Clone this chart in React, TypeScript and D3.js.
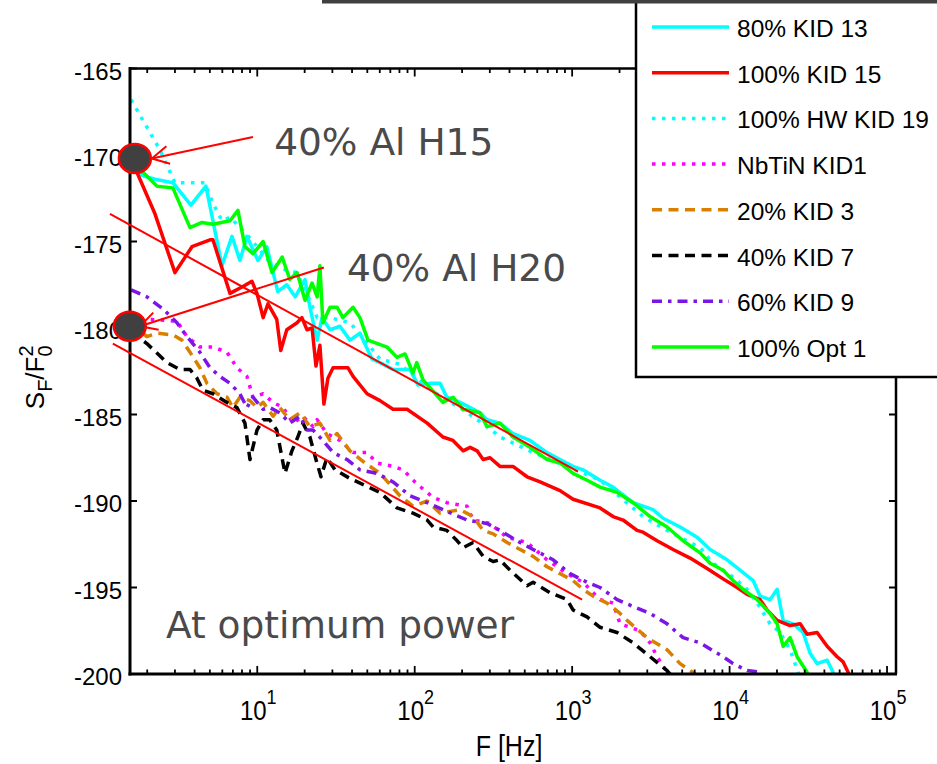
import React from 'react'
import * as d3 from 'd3'

// frequency [Hz], S_F/F0^2 [dBc/Hz]
const kid13: [number, number][] = [
  [1.58, -170.5], [1.67, -170.9], [1.88, -171.2], [2.24, -171.4], [2.91, -171.6], [3.79, -172.9],
  [4.72, -171.8], [5.97, -176.4], [6.91, -174.7], [7.76, -176.1], [8.6, -174.7], [10.1, -176.1],
  [11.5, -175.3], [13.5, -177.9], [15.4, -177.5], [17.4, -178.2], [20.1, -177.2], [21.6, -178.8],
  [24.0, -180.7], [25.8, -179.4], [29.0, -180.1], [33.5, -179.9], [38.8, -180.7], [44.9, -180.3],
  [53.6, -181.8], [60.2, -182.0], [72.8, -182.4], [93.4, -182.4], [105, -183.3], [125, -183.2],
  [145, -183.2], [160, -184.0], [194, -184.3], [225, -184.6], [260, -184.9], [288, -185.3],
  [348, -185.5], [421, -186.1], [540, -186.5], [693, -187.2], [838, -187.6], [1013, -188.0],
  [1173, -188.2], [1504, -188.8], [1819, -189.2], [2438, -190.1], [3266, -190.5], [3780, -191.0],
  [4850, -191.5], [6217, -192.1], [7517, -192.8], [9640, -193.4], [11660, -194.0], [14100, -194.6],
  [15620, -195.5], [18080, -195.7], [20040, -195.1], [21880, -196.9], [25320, -197.1], [29310, -197.6],
  [32460, -198.8], [35960, -199.4], [41640, -199.2], [45450, -199.9], [48200, -200.8],
]

const kid15: [number, number][] = [
  [1.58, -170.3], [1.72, -171.0], [2.24, -173.4], [3.0, -176.8], [3.85, -175.3], [5.01, -174.9],
  [5.23, -174.9], [6.71, -178.0], [8.11, -177.6], [9.25, -177.3], [9.96, -178.0], [10.9, -179.4],
  [11.7, -178.6], [13.3, -179.5], [14.1, -181.3], [15.4, -180.1], [17.9, -179.7], [19.2, -179.4],
  [20.7, -180.1], [22.3, -180.0], [23.6, -182.2], [25.0, -181.0], [26.5, -184.4], [28.1, -182.9],
  [30.3, -182.3], [37.7, -182.3], [40.6, -182.8], [49.8, -183.8], [60.2, -184.2], [72.8, -184.7],
  [89.4, -184.7], [120, -185.5], [151, -186.3], [175, -186.5], [203, -187.1], [225, -186.9],
  [249, -187.1], [272, -187.6], [301, -187.5], [348, -188.0], [421, -188.0], [517, -188.6],
  [626, -188.9], [838, -189.4], [1013, -189.9], [1504, -190.4], [1819, -190.9], [2106, -191.1],
  [2584, -191.7], [2821, -191.8], [3463, -192.3], [4377, -192.8], [5613, -193.3], [7194, -193.9],
  [9094, -194.5], [11160, -195.0], [12920, -195.4], [15620, -195.7], [17300, -196.3], [20040, -196.9],
  [24230, -197.2], [28050, -197.1], [31070, -197.7], [35960, -197.6], [41640, -198.4], [48200, -199.0],
  [52630, -199.3], [56610, -199.9], [58700, -200.5],
]

const hwKid19: [number, number][] = [
  [1.58, -166.8], [1.8, -167.7], [2.08, -168.7], [2.41, -169.7], [2.67, -170.6], [3.0, -171.6],
  [3.74, -171.6], [4.65, -171.6], [5.23, -172.8], [5.97, -173.8], [6.71, -173.6], [8.6, -174.6],
  [9.96, -175.3], [12.0, -176.2], [14.6, -176.6], [17.9, -176.8], [19.5, -177.6], [21.6, -178.4],
  [24.0, -179.4], [29.0, -179.4], [38.8, -179.7], [48.3, -180.7], [60.2, -181.8], [80.7, -182.1],
  [120, -183.4], [160, -184.2], [194, -184.6], [288, -185.7], [348, -186.3], [565, -187.2],
  [928, -188.0], [1504, -188.8], [2821, -190.9], [4009, -191.7], [6495, -192.7], [7858, -193.6],
  [10530, -194.4], [12920, -195.1], [14950, -195.9], [18080, -197.1], [20940, -197.6], [24230, -198.6],
  [27240, -199.9], [28050, -200.3],
]

const nbtinKid1: [number, number][] = [
  [1.58, -179.7], [2.08, -179.5], [3.09, -179.6], [3.58, -180.5], [4.32, -181.1], [5.23, -181.1],
  [6.42, -181.4], [7.43, -182.3], [8.6, -182.8], [9.39, -184.0], [10.9, -183.8], [12.6, -184.3],
  [14.6, -184.6], [16.9, -185.5], [19.5, -185.1], [22.6, -185.7], [24.0, -185.3], [27.7, -186.1],
  [33.5, -186.5], [40.6, -187.2], [49.8, -187.2], [57.6, -187.8], [72.8, -188.0], [84.3, -188.2],
  [103, -189.0], [131, -189.8], [160, -190.1], [215, -190.3], [235, -191.1], [301, -191.3],
  [386, -192.1], [517, -192.4], [693, -193.4], [928, -194.2], [1173, -194.7], [1504, -195.7],
  [1819, -195.9], [2015, -197.1], [2700, -197.5], [3126, -198.2], [3463, -199.0], [4009, -199.9],
  [4100, -200.3],
]

const kid3: [number, number][] = [
  [1.58, -179.7], [1.99, -180.5], [2.31, -180.3], [2.91, -180.4], [3.32, -180.7], [3.74, -181.4],
  [4.32, -182.3], [4.79, -183.2], [5.55, -183.8], [6.42, -184.0], [7.01, -184.6], [7.76, -184.0],
  [8.99, -184.2], [9.96, -184.6], [10.9, -184.3], [12.6, -185.1], [13.9, -184.6], [16.1, -185.3],
  [18.7, -184.9], [21.6, -185.7], [25.0, -185.5], [29.0, -186.5], [32.1, -186.1], [38.8, -187.1],
  [48.3, -187.8], [60.2, -188.4], [80.7, -189.7], [97.5, -190.3], [120, -190.0], [145, -190.7],
  [194, -190.5], [235, -190.9], [272, -191.7], [315, -191.9], [386, -192.4], [467, -192.8],
  [565, -193.2], [693, -193.8], [838, -194.2], [1013, -194.6], [1173, -195.1], [1358, -195.5],
  [1666, -195.9], [2015, -196.5], [2233, -196.9], [2991, -197.9], [4009, -198.6], [4850, -199.4],
  [6040, -200.0], [6300, -200.3],
]

const kid7: [number, number][] = [
  [1.58, -180.2], [1.99, -180.9], [2.67, -182.0], [3.23, -182.4], [3.74, -182.4], [4.14, -182.9],
  [4.52, -183.6], [5.23, -183.8], [6.42, -184.3], [7.43, -184.6], [8.35, -185.5], [8.99, -187.6],
  [9.96, -185.9], [10.9, -185.3], [12.0, -185.3], [13.3, -185.9], [15.0, -188.4], [16.6, -187.1],
  [18.1, -186.3], [19.5, -185.5], [21.6, -186.3], [23.6, -187.6], [25.4, -188.6], [27.7, -187.5],
  [31.2, -188.2], [38.8, -188.7], [48.3, -189.1], [60.2, -189.5], [77.2, -190.4], [97.5, -190.7],
  [120, -191.1], [131, -191.5], [160, -191.7], [186, -192.3], [203, -192.7], [235, -192.4],
  [272, -193.2], [315, -193.5], [348, -193.4], [403, -194.0], [517, -194.9], [565, -194.7],
  [724, -195.3], [928, -195.7], [1013, -196.3], [1244, -196.7], [1504, -197.3], [1929, -197.6],
  [2438, -198.2], [3126, -199.0], [4009, -199.8], [4377, -200.2],
]

const kid9: [number, number][] = [
  [1.58, -177.8], [1.99, -178.2], [2.52, -178.9], [3.09, -179.7], [3.58, -180.5], [4.32, -181.4],
  [5.01, -182.3], [5.8, -182.8], [6.71, -183.2], [7.76, -183.8], [8.6, -184.6], [9.39, -184.0],
  [10.9, -184.7], [12.0, -184.6], [13.9, -184.9], [16.1, -185.5], [18.7, -185.1], [20.7, -185.9],
  [22.6, -185.9], [26.1, -186.5], [30.3, -187.2], [37.1, -187.6], [44.9, -188.2], [57.6, -188.4],
  [72.8, -188.9], [93.4, -189.7], [120, -190.1], [151, -190.5], [215, -191.1], [288, -191.3],
  [348, -191.7], [447, -192.3], [565, -192.8], [757, -193.4], [970, -194.2], [1244, -194.7],
  [1504, -195.0], [1929, -195.7], [2438, -196.1], [3126, -196.5], [4009, -197.1], [5066, -197.9],
  [6495, -198.2], [9094, -199.0], [10530, -199.4], [12920, -199.8], [15620, -199.9], [16500, -200.3],
]

const opt1: [number, number][] = [
  [1.58, -170.5], [1.88, -171.0], [2.31, -171.8], [2.91, -171.9], [3.74, -174.2], [4.45, -173.9],
  [5.23, -174.0], [6.71, -173.8], [7.54, -173.2], [8.35, -175.3], [9.39, -175.7], [10.9, -175.0],
  [12.4, -176.8], [14.4, -175.9], [16.1, -177.2], [17.9, -176.8], [20.1, -178.4], [22.3, -177.4],
  [24.0, -178.2], [25.0, -176.4], [26.1, -179.7], [29.0, -178.8], [32.1, -178.8], [35.0, -179.4],
  [40.6, -178.8], [44.9, -179.4], [50.5, -180.7], [66.7, -181.1], [77.2, -181.7], [86.8, -181.5],
  [97.5, -182.6], [103, -182.0], [113, -183.0], [151, -184.3], [175, -184.0], [203, -184.7],
  [260, -184.9], [288, -185.7], [348, -185.5], [421, -186.3], [540, -186.9], [693, -187.6],
  [838, -187.8], [1013, -188.4], [1244, -188.8], [1504, -189.2], [1929, -189.5], [2438, -190.1],
  [3126, -190.9], [4009, -191.5], [5066, -192.3], [6495, -193.0], [7517, -193.6], [9094, -194.0],
  [10530, -194.6], [12180, -195.1], [14950, -195.7], [18080, -196.5], [20040, -197.1], [21880, -198.4],
  [24230, -197.9], [26850, -199.0], [31070, -199.9], [32460, -200.4],
]

// 1/sqrt(f) guide lines
const guideH15: [number, number][] = [[1.16, -173.4], [1090, -188.3]]
const guideH20: [number, number][] = [[1.21, -180.9], [1156, -195.7]]

// marker points (start values) and arrows [tail, tip]
const markers: [number, number][] = [[1.67, -170.2], [1.55, -179.9]]
const arrows: [number, number][][] = [
  [[9.39, -168.96], [2.14, -170.2]],
  [[26.5, -176.5], [1.8, -179.9]],
]
const notes = ['40% Al H15', '40% Al H20', 'At optimum power']
const notePos: [number, number][] = [[12.8, -170.0], [37.1, -177.3], [2.63, -197.9]]

const yTicks = [-165, -170, -175, -180, -185, -190, -195, -200]
const xMajor = [10, 100, 1000, 10000, 100000]
const xExp = ['1', '2', '3', '4', '5']

const series = [
  { label: '80% KID 13', data: kid13, color: '#00ffff', dash: null },
  { label: '100% KID 15', data: kid15, color: '#ff0000', dash: null },
  { label: '100% HW KID 19', data: hwKid19, color: '#00ffff', dash: '3.5 6.5' },
  { label: 'NbTiN KID1', data: nbtinKid1, color: '#ff00ff', dash: '3.5 6.5' },
  { label: '20% KID 3', data: kid3, color: '#d98000', dash: '10 6.5' },
  { label: '40% KID 7', data: kid7, color: '#000000', dash: '10 6.5' },
  { label: '60% KID 9', data: kid9, color: '#7b16e6', dash: '10 6 3.5 6' },
  { label: '100% Opt 1', data: opt1, color: '#00ff00', dash: null },
]

const W = 937
const H = 764
const L = 130, T = 68.5, R = 896, B = 674
const axisFont = 'Liberation Sans, Arial, Helvetica, sans-serif'
const noteFont = 'DejaVu Sans, Verdana, sans-serif'

const x = d3.scaleLog().domain([1.555, 1.14e5]).range([L, R])
const y = d3.scaleLinear().domain([-165, -200]).range([T, B])

const line = d3
  .line<[number, number]>()
  .x(d => x(d[0]))
  .y(d => y(d[1]))

const xMinor: number[] = []
xMajor.forEach(m => {
  for (let k = 2; k <= 9; k++) {
    const v = (m / 10) * k
    if (v > x.domain()[0] && v < x.domain()[1]) xMinor.push(v)
  }
})

const arrowHead = (tail: [number, number], tip: [number, number]) => {
  const x1 = x(tail[0]), y1 = y(tail[1])
  const x2 = x(tip[0]), y2 = y(tip[1])
  const a = Math.atan2(y1 - y2, x1 - x2)
  const len = 19, s = 0.49
  return `M${x2 + len * Math.cos(a + s)},${y2 + len * Math.sin(a + s)}L${x2},${y2}L${x2 + len * Math.cos(a - s)},${y2 + len * Math.sin(a - s)}`
}

const App = () => {
  return (
    <svg
      width={W}
      height={H}
      style={{ position: 'absolute', left: 0, top: 0, background: '#fff' }}
    >
      <defs>
        <clipPath id="plot">
          <rect x={L} y={T} width={R - L} height={B - T} />
        </clipPath>
      </defs>

      {/* curves */}
      <g clipPath="url(#plot)">
        {series.map((s, i) => (
          <path
            key={i}
            d={line(s.data) || ''}
            fill="none"
            stroke={s.color}
            strokeWidth={3.5}
            strokeDasharray={s.dash || undefined}
            strokeLinejoin="round"
          />
        ))}
      </g>

      {/* axes box and ticks */}
      <g stroke="#000" fill="none">
        <line x1={L} x2={R} y1={T} y2={T} strokeWidth={2.5} />
        <line x1={R} x2={R} y1={T} y2={B} strokeWidth={2.5} />
        <line x1={L} x2={L} y1={T - 1.5} y2={B + 1.5} strokeWidth={3} />
        <line x1={L - 1.5} x2={R + 1} y1={B} y2={B} strokeWidth={3} />
        {yTicks.map(t => (
          <g key={t}>
            <line x1={L} x2={L + 7} y1={y(t)} y2={y(t)} strokeWidth={2} />
            <line x1={R} x2={R - 7} y1={y(t)} y2={y(t)} strokeWidth={2} />
          </g>
        ))}
        {xMajor.map(t => (
          <g key={t}>
            <line x1={x(t)} x2={x(t)} y1={B} y2={B - 8} strokeWidth={1.8} />
            <line x1={x(t)} x2={x(t)} y1={T} y2={T + 8} strokeWidth={1.8} />
          </g>
        ))}
        {xMinor.map(t => (
          <g key={t}>
            <line x1={x(t)} x2={x(t)} y1={B} y2={B - 4.5} strokeWidth={1.8} />
            <line x1={x(t)} x2={x(t)} y1={T} y2={T + 4.5} strokeWidth={1.8} />
          </g>
        ))}
      </g>

      <g fontFamily={axisFont} fontSize={24} fill="#000">
        {yTicks.map(t => (
          <text key={t} x={122} y={y(t) + 11} textAnchor="end">
            {t}
          </text>
        ))}
        {xMajor.map((t, i) => (
          <text
            key={t}
            transform={`translate(${x(t) + 1}, 720) scale(1, 1.17)`}
            textAnchor="middle"
          >
            10
            <tspan fontSize={18} dy={-14}>
              {xExp[i]}
            </tspan>
          </text>
        ))}
        <text
          transform={`translate(${(L + R) / 2 - 4}, 756) scale(1, 1.15)`}
          textAnchor="middle"
          fontSize={25}
        >
          F [Hz]
        </text>
        <text
          transform={`translate(44, ${(T + B) / 2 + 6}) rotate(-90)`}
          textAnchor="middle"
          fontSize={26}
        >
          S
          <tspan fontSize={20} dy={8}>F</tspan>
          <tspan fontSize={26} dy={-8}>/F</tspan>
          <tspan fontSize={20} dy={8}>0</tspan>
          <tspan fontSize={20} dx={-11} dy={-19}>2</tspan>
        </text>
      </g>

      {/* guide lines, arrows, markers */}
      <g stroke="#ff0000" fill="none" strokeWidth={2}>
        <path d={line(guideH15) || ''} />
        <path d={line(guideH20) || ''} />
        {arrows.map((a, i) => (
          <g key={i}>
            <path d={line(a as [number, number][]) || ''} />
            <path d={arrowHead(a[0], a[1])} />
          </g>
        ))}
      </g>
      {markers.map((m, i) => (
        <ellipse
          key={i}
          cx={x(m[0])}
          cy={y(m[1])}
          rx={16}
          ry={14.5}
          fill="#404040"
          stroke="#ff0000"
          strokeWidth={2.5}
        />
      ))}
      <g fontFamily={noteFont} fontSize={37.5} fill="#4a4a4a">
        {notes.map((n, i) => (
          <text key={n} x={x(notePos[i][0])} y={y(notePos[i][1])}>
            {n}
          </text>
        ))}
      </g>

      {/* legend */}
      <g>
        <rect x={636} y={-3} width={320} height={380} fill="#fff" stroke="#000" strokeWidth={2.5} />
        {series.map((s, i) => {
          const ly = 27 + i * 45.7
          return (
            <g key={s.label}>
              <line
                x1={652}
                x2={729}
                y1={ly}
                y2={ly}
                stroke={s.color}
                strokeWidth={3.5}
                strokeDasharray={s.dash || undefined}
              />
              <text x={737} y={ly + 10} fontFamily={axisFont} fontSize={24.5} fill="#000">
                {s.label}
              </text>
            </g>
          )
        })}
      </g>
      <rect x={322} y={0} width={W - 322} height={3.5} fill="#404040" />
    </svg>
  )
}

export default App
